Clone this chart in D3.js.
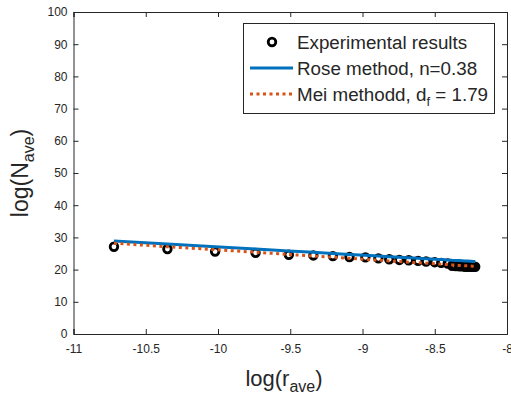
<!DOCTYPE html>
<html><head><meta charset="utf-8">
<script src="https://cdn.jsdelivr.net/npm/d3@7"></script>
<style>body{margin:0;background:#fff}svg{display:block}text{font-family:"Liberation Sans",Arial,Helvetica,sans-serif;fill:#262626}</style>
</head><body><svg id="c" width="511" height="402"></svg>
<script>
const logR = [-10.72,-10.35,-10.02,-9.74,-9.51,-9.34,-9.205,-9.09,-8.98,-8.89,-8.815,-8.745,-8.68,-8.615,-8.56,-8.50,-8.455,-8.41,-8.38,-8.355,-8.33,-8.31,-8.29,-8.27,-8.25,-8.235,-8.22];
const expN = [27.1,26.4,25.6,25.2,24.6,24.4,24.2,23.9,23.8,23.5,23.2,23.0,22.9,22.7,22.5,22.3,22.1,21.9,21.2,21.1,21.0,21.0,20.9,20.9,20.9,20.9,20.9];
const roseN = [28.9,27.95,27.1,26.4,25.8,25.4,25.0,24.7,24.45,24.2,24.0,23.85,23.7,23.5,23.4,23.2,23.1,23.0,22.9,22.85,22.8,22.75,22.7,22.65,22.6,22.55,22.5];
const meiN = [28.2,27.1,26.2,25.4,24.7,24.2,23.85,23.5,23.2,22.9,22.7,22.5,22.3,22.1,22.0,21.8,21.7,21.55,21.45,21.4,21.3,21.25,21.2,21.15,21.1,21.05,21.0];
const xTicks = [-11,-10.5,-10,-9.5,-9,-8.5,-8];
const yTicks = [0,10,20,30,40,50,60,70,80,90,100];
const legendLabels = ["Experimental results","Rose method, n=0.38","Mei methodd, d"];

const svg = d3.select("#c");
const L=73.5, R=507, T=12, B=334;
const x = d3.scaleLinear().domain([-11,-8]).range([L,R]);
const y = d3.scaleLinear().domain([0,100]).range([B,T]);
const ax = "#262626";

// axes
const gx = svg.append("g").attr("transform",`translate(0,${B})`)
  .call(d3.axisBottom(x).tickValues(xTicks).tickSize(-5).tickPadding(10).tickFormat(d=>String(d)));
const gxt = svg.append("g").attr("transform",`translate(0,${T})`)
  .call(d3.axisTop(x).tickValues(xTicks).tickSize(-5).tickFormat(""));
const gy = svg.append("g").attr("transform",`translate(${L},0)`)
  .call(d3.axisLeft(y).tickValues(yTicks).tickSize(-5).tickPadding(6).tickFormat(d=>String(d)));
const gyr = svg.append("g").attr("transform",`translate(${R},0)`)
  .call(d3.axisRight(y).tickValues(yTicks).tickSize(-5).tickFormat(""));
[gx,gxt,gy,gyr].forEach(g=>{
  g.select(".domain").attr("stroke",ax).attr("stroke-width",1);
  g.selectAll(".tick line").attr("stroke",ax);
  g.selectAll(".tick text").attr("fill",ax).style("font-size","12px").style("font-family",'"Liberation Sans",Arial,sans-serif');
});

// data
svg.append("g").selectAll("circle").data(logR).join("circle")
  .attr("cx",d=>x(d)).attr("cy",(d,i)=>y(expN[i])).attr("r",3.8)
  .attr("fill","none").attr("stroke","#000").attr("stroke-width",2.8);
const line = d3.line().x(d=>x(d[0])).y(d=>y(d[1]));
svg.append("path").datum(logR.map((d,i)=>[d,roseN[i]])).attr("d",line)
  .attr("fill","none").attr("stroke","#0072BD").attr("stroke-width",3);
svg.append("path").datum(logR.map((d,i)=>[d,meiN[i]])).attr("d",line)
  .attr("fill","none").attr("stroke","#D95319").attr("stroke-width",3).attr("stroke-dasharray","3,3.5");

// axis labels
const xl = svg.append("text").attr("x",284).attr("y",386).attr("text-anchor","middle").style("font-size","22px");
xl.append("tspan").text("log(r");
xl.append("tspan").attr("dy",6).style("font-size","16px").text("ave");
xl.append("tspan").attr("dy",-6).text(")");
const yl = svg.append("text").attr("transform",`translate(28,${(T+B)/2}) rotate(-90)`).attr("text-anchor","middle").style("font-size","23px");
yl.append("tspan").text("log(N");
yl.append("tspan").attr("dy",6).style("font-size","16px").text("ave");
yl.append("tspan").attr("dy",-6).text(")");

// legend
const lg = svg.append("g");
lg.append("rect").attr("x",243.5).attr("y",23.5).attr("width",251).attr("height",90)
  .attr("fill","#fff").attr("stroke",ax).attr("stroke-width",1);
const rowY = [42,68,94];
lg.append("circle").attr("cx",272).attr("cy",rowY[0]).attr("r",3.8).attr("fill","none").attr("stroke","#000").attr("stroke-width",2.8);
lg.append("line").attr("x1",250).attr("x2",293).attr("y1",rowY[1]).attr("y2",rowY[1]).attr("stroke","#0072BD").attr("stroke-width",3);
lg.append("line").attr("x1",250).attr("x2",293).attr("y1",rowY[2]).attr("y2",rowY[2]).attr("stroke","#D95319").attr("stroke-width",3).attr("stroke-dasharray","3,3.5");
legendLabels.forEach((t,i)=>{
  const tx = lg.append("text").attr("x",297).attr("y",rowY[i]).attr("dy","0.35em").style("font-size","18.8px");
  tx.append("tspan").text(t);
  if(i===2){
    tx.append("tspan").attr("dy",5).style("font-size","13px").text("f");
    tx.append("tspan").attr("dy",-5).text(" = 1.79");
  }
});
</script></body></html>
